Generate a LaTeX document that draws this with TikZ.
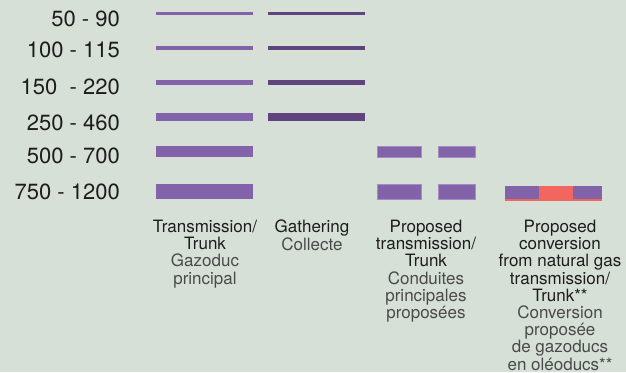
\documentclass[tikz,border=0pt]{standalone}
\usepackage{fontspec}
\setmainfont{TeX Gyre Heros}
\usepackage{tikz}

\definecolor{bgcol}{HTML}{D6E0D7}
\definecolor{trunkcol}{HTML}{8263A9}
\definecolor{gathercol}{HTML}{60447E}
\definecolor{edgecol}{HTML}{A48CC4}
\definecolor{convcol}{HTML}{F26660}
\definecolor{encol}{HTML}{1E1C1D}
\definecolor{frcol}{HTML}{4A4A4A}

\tikzset{
    sizelab/.style={anchor=base east, inner sep=0pt, text=encol, font=\fontsize{22}{22}\selectfont},
    legtext/.style={anchor=north, inner sep=0pt, align=center, text=encol, font=\fontsize{17}{17.2}\selectfont},
    propbar/.style={fill=trunkcol, draw=edgecol, line width=0.8pt}
}

\begin{document}
\begin{tikzpicture}[x=1pt, y=-1pt]

            \fill[bgcol] (0,0) rectangle (626,372);
            \useasboundingbox (0,0) rectangle (626,372);

            % size classes
            \foreach \i/\yb/\txt in {1/26/{50 - 90}, 2/57/{100 - 115}, 3/94/{150\ \ - 220},
                                     4/130/{250 - 460}, 5/163/{500 - 700}, 6/199/{750 - 1200}}
            {
                \node[sizelab] (lab\i) at (120,\yb) {\txt};
            }

            % transmission / trunk
            \foreach \ya/\yb in {12/15, 46/50, 80/85, 113/121, 146/157, 184/199}
            {
                \fill[trunkcol] (156,\ya) rectangle (253,\yb);
            }
            % gathering
            \foreach \ya/\yb in {12/15, 46/50, 80/85, 113/121}
            {
                \fill[gathercol] (268,\ya) rectangle (365,\yb);
            }

            % proposed transmission
            \foreach \ya/\yb in {146/157, 184/199}
            {
                \draw[propbar] (377,\ya) rectangle (421,\yb);
                \draw[propbar] (438,\ya) rectangle (475,\yb);
            }

            % proposed conversion
            \fill[trunkcol] (505,186) rectangle (539,199);
            \fill[convcol] (539,186) rectangle (573,199);
            \fill[trunkcol] (573,186) rectangle (602,199);
            \fill[convcol] (505,199) rectangle (602,200.7);

            \node[legtext] (trunk) at (205,220)
                {Transmission/\\Trunk\\\textcolor{frcol}{Gazoduc}\\\textcolor{frcol}{principal}};
            \node[legtext] (gather) at (312,220)
                {Gathering\\\textcolor{frcol}{Collecte}};
            \node[legtext] (proptrunk) at (426,220)
                {Proposed\\transmission/\\Trunk\\\textcolor{frcol}{Conduites}\\\textcolor{frcol}{principales}\\\textcolor{frcol}{proposées}};
            \node[legtext] (conv) at (560,220)
                {Proposed\\conversion\\from natural gas\\transmission/\\Trunk**\\\textcolor{frcol}{Conversion}\\\textcolor{frcol}{proposée}\\\textcolor{frcol}{de gazoducs}\\\textcolor{frcol}{en oléoducs**}};

\end{tikzpicture}
\end{document}
